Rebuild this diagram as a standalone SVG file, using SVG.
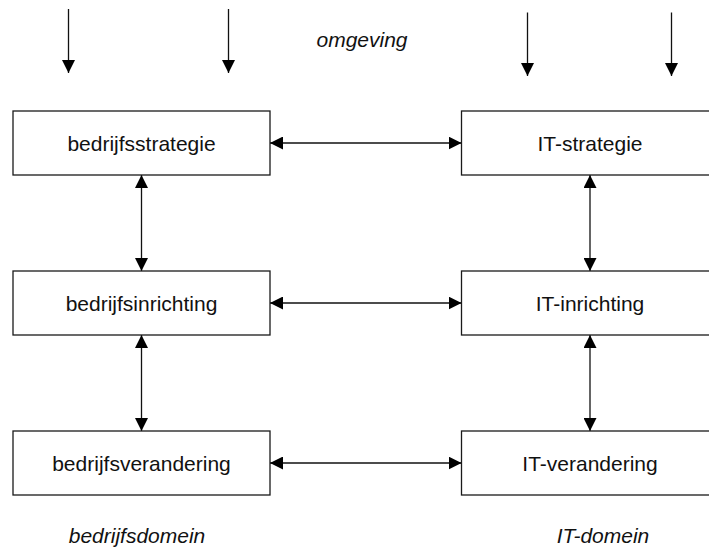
<svg xmlns="http://www.w3.org/2000/svg" width="709" height="547" viewBox="0 0 709 547">
  <style>
    .box { fill: #ffffff; stroke: #1a1a1a; stroke-width: 1.3; }
    .lbl { font-family: "Liberation Sans", Arial, sans-serif; font-size: 21px; fill: #111111; text-anchor: middle; }
    .dom { font-family: "Liberation Sans", Arial, sans-serif; font-size: 21px; font-style: italic; fill: #111111; text-anchor: middle; }
    .con { stroke: #111111; stroke-width: 1.3; fill: none; }
  </style>
  <defs>
    <marker id="head" viewBox="0 0 13 13" refX="13" refY="6.5" markerWidth="13" markerHeight="13" markerUnits="userSpaceOnUse" orient="auto-start-reverse">
      <path d="M0,0 L13,6.5 L0,13 z" fill="#000000"/>
    </marker>
  </defs>
  <rect width="709" height="547" fill="#ffffff"/>

  <!-- environment influences -->
  <g id="omgeving">
    <text class="dom" x="362" y="47">omgeving</text>
  </g>

  <g id="connectors">
    <!-- incoming arrows from the environment -->
    <line class="con" x1="68.5" y1="9" x2="68.5" y2="73" marker-end="url(#head)"/>
    <line class="con" x1="228.5" y1="9" x2="228.5" y2="73" marker-end="url(#head)"/>
    <line class="con" x1="527.5" y1="12.5" x2="527.5" y2="76" marker-end="url(#head)"/>
    <line class="con" x1="671.5" y1="12.5" x2="671.5" y2="76" marker-end="url(#head)"/>
    <!-- horizontal alignment links -->
    <line class="con" x1="270" y1="143" x2="461.5" y2="143" marker-start="url(#head)" marker-end="url(#head)"/>
    <line class="con" x1="270" y1="303" x2="461.5" y2="303" marker-start="url(#head)" marker-end="url(#head)"/>
    <line class="con" x1="270" y1="463" x2="461.5" y2="463" marker-start="url(#head)" marker-end="url(#head)"/>
    <!-- vertical links, business column -->
    <line class="con" x1="141.5" y1="175" x2="141.5" y2="271" marker-start="url(#head)" marker-end="url(#head)"/>
    <line class="con" x1="141.5" y1="335" x2="141.5" y2="431" marker-start="url(#head)" marker-end="url(#head)"/>
    <!-- vertical links, IT column -->
    <line class="con" x1="590" y1="175" x2="590" y2="271" marker-start="url(#head)" marker-end="url(#head)"/>
    <line class="con" x1="590" y1="335" x2="590" y2="431" marker-start="url(#head)" marker-end="url(#head)"/>
  </g>

  <g id="bedrijfsstrategie">
    <rect class="box" x="13" y="111" width="257" height="64"/>
    <text class="lbl" x="141.5" y="150.5">bedrijfsstrategie</text>
  </g>
  <g id="bedrijfsinrichting">
    <rect class="box" x="13" y="271" width="257" height="64"/>
    <text class="lbl" x="141.5" y="310.5">bedrijfsinrichting</text>
  </g>
  <g id="bedrijfsverandering">
    <rect class="box" x="13" y="431" width="257" height="64"/>
    <text class="lbl" x="141.5" y="470.5">bedrijfsverandering</text>
  </g>

  <g id="it-strategie">
    <rect class="box" x="461.5" y="111" width="257" height="64"/>
    <text class="lbl" x="590" y="150.5">IT-strategie</text>
  </g>
  <g id="it-inrichting">
    <rect class="box" x="461.5" y="271" width="257" height="64"/>
    <text class="lbl" x="590" y="310.5">IT-inrichting</text>
  </g>
  <g id="it-verandering">
    <rect class="box" x="461.5" y="431" width="257" height="64"/>
    <text class="lbl" x="590" y="470.5">IT-verandering</text>
  </g>

  <g id="bedrijfsdomein">
    <text class="dom" x="137" y="543">bedrijfsdomein</text>
  </g>
  <g id="it-domein">
    <text class="dom" x="603" y="543">IT-domein</text>
  </g>
</svg>
